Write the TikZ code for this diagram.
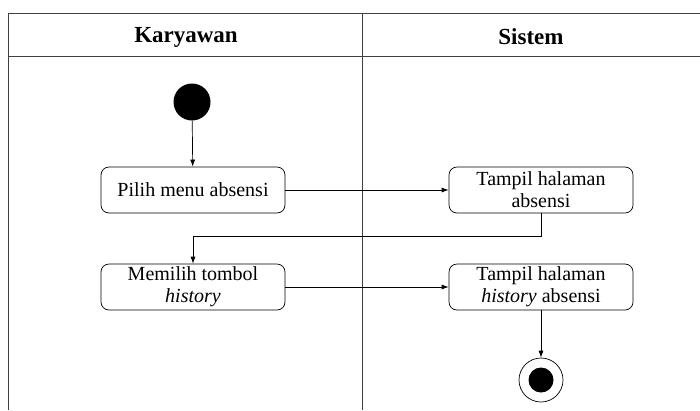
\documentclass[tikz,border=0pt]{standalone}
\usepackage{fontspec}
\setmainfont{Liberation Serif}
\usetikzlibrary{arrows.meta}
\begin{document}
\begin{tikzpicture}[x=1pt,y=-1pt,
  lane/.style={draw=black!75, line width=0.9pt},
  act/.style={draw, rounded corners=8pt, minimum width=184pt, minimum height=46pt, align=center, inner sep=1pt, font=\fontsize{20}{22}\selectfont, line width=0.7pt},
  flow/.style={draw, line width=0.7pt, -{Latex[length=7pt,width=5pt]}},
  hdr/.style={font=\fontsize{23}{26}\selectfont\bfseries}]
\useasboundingbox (0,0) rectangle (700,410);
\fill[white] (0,0) rectangle (700,410);
% swimlanes
\draw[lane] (8,410) -- (8,13) -- (700,13);
\draw[lane] (8,56) -- (700,56);
\draw[lane] (362,13) -- (362,410);
\node[hdr] (h1) at (186,37) {Karyawan};
\node[hdr] (h2) at (531,37) {Sistem};
% nodes
\node[circle, fill=black, minimum size=37pt, inner sep=0pt] (start) at (192,102) {};
\node[act] (b1) at (193,190) {Pilih menu absensi};
\node[act] (b2) at (541,190) {Tampil halaman\\absensi};
\node[act] (b3) at (193,287) {Memilih tombol\\\textit{history}};
\node[act] (b4) at (541,287) {Tampil halaman\\\textit{history} absensi};
\node[circle, draw, line width=0.7pt, minimum size=44pt, inner sep=0pt] (end) at (541,380) {};
\fill (end.center) circle (12.5pt);
% connectors
\draw[flow] (start) -- (b1);
\draw[flow] (b1) -- (b2);
\draw[flow] (b2.south) -- ++(0,23) -| (b3.north);
\draw[flow] (b3) -- (b4);
\draw[flow] (b4) -- (end);
\end{tikzpicture}
\end{document}
